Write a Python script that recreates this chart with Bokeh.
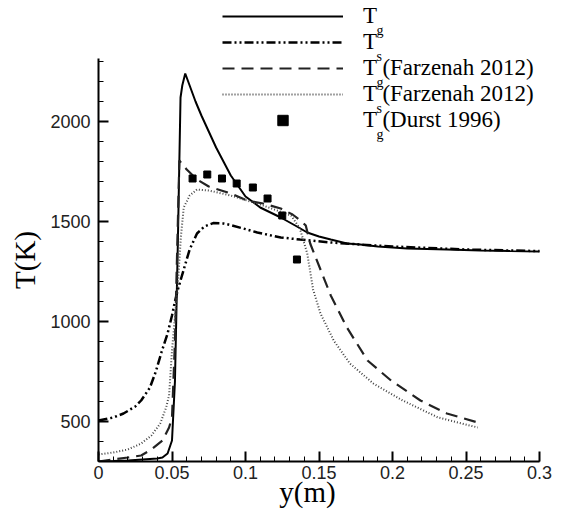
from bokeh.plotting import figure
from bokeh.models import Legend, LegendItem, Label, FixedTicker, Range1d
from bokeh.embed import file_html
from bokeh.resources import INLINE

# ---------------- data ----------------
tg_x = [0, 0.01, 0.02, 0.03, 0.04, 0.0435, 0.047, 0.05, 0.052, 0.054, 0.0558, 0.057, 0.059,
        0.062, 0.066, 0.07, 0.075, 0.08, 0.09, 0.1, 0.11, 0.124, 0.135, 0.142, 0.15, 0.158,
        0.169, 0.178, 0.19, 0.21, 0.237, 0.26, 0.28, 0.3]
tg_y = [300, 302, 305, 310, 315, 320, 340, 405, 700, 1400, 2120, 2180, 2240,
        2180, 2100, 2030, 1950, 1870, 1730, 1625, 1570, 1520, 1475, 1445, 1425, 1410,
        1390, 1385, 1375, 1365, 1360, 1355, 1352, 1350]

ts_x = [0, 0.01, 0.017, 0.025, 0.029, 0.035, 0.039, 0.043, 0.047, 0.05, 0.052, 0.054, 0.058,
        0.062, 0.067, 0.072, 0.078, 0.085, 0.09, 0.1, 0.108, 0.124, 0.137, 0.158, 0.178,
        0.2, 0.25, 0.3]
ts_y = [505, 520, 540, 575, 605, 670, 750, 850, 940, 1030, 1100, 1160, 1260,
        1360, 1440, 1475, 1492, 1490, 1482, 1462, 1445, 1420, 1410, 1395, 1385,
        1375, 1360, 1352]

tgf_x = [0, 0.01, 0.02, 0.029, 0.036, 0.0435, 0.048, 0.05, 0.052, 0.054, 0.055, 0.06, 0.067,
         0.075, 0.09, 0.101, 0.112, 0.124, 0.132, 0.139, 0.141, 0.144, 0.151, 0.158, 0.169,
         0.183, 0.199, 0.219, 0.237, 0.258]
tgf_y = [300, 310, 320, 330, 360, 405, 470, 520, 900, 1500, 1805, 1760, 1710,
         1675, 1640, 1605, 1590, 1565, 1535, 1495, 1480, 1390, 1260, 1130, 970,
         805, 705, 605, 540, 495]

tsf_x = [0, 0.01, 0.02, 0.029, 0.036, 0.042, 0.046, 0.048, 0.05, 0.052, 0.054, 0.056, 0.058,
         0.062, 0.067, 0.075, 0.09, 0.112, 0.131, 0.137, 0.142, 0.146, 0.151, 0.16, 0.171,
         0.187, 0.207, 0.231, 0.258]
tsf_y = [335, 345, 360, 390, 430, 490, 570, 630, 855, 1020, 1190, 1420, 1570,
         1630, 1660, 1655, 1630, 1580, 1530, 1465, 1340, 1160, 1040, 905, 790,
         690, 605, 520, 470]

durst_x = [0.064, 0.074, 0.084, 0.094, 0.105, 0.115, 0.125, 0.135]
durst_y = [1715, 1735, 1715, 1690, 1670, 1615, 1530, 1310]

legend_labels = ["T", "T", "T (Farzenah 2012)", "T (Farzenah 2012)", "T (Durst 1996)"]
legend_subs = ["g", "s", "g", "s", "g"]

x_ticks = [0, 0.05, 0.1, 0.15, 0.2, 0.25, 0.3]
x_tick_labels = ["0", "0.05", "0.1", "0.15", "0.2", "0.25", "0.3"]
x_minor = [i / 100 for i in range(31)]
y_ticks = [500, 1000, 1500, 2000]
y_minor = [300 + 100 * i for i in range(21)]

# ---------------- figure ----------------
W, H = 574, 513
FL, FR, FB = 98, 539, 461          # frame left / axis right end / frame bottom (px)
x_end = 0.3 * (W - FL) / (FR - FL)
y_end = 300 + (2315 - 300) * FB / (FB - 58)
PAD = "\u00a0" * 8                 # shifts the centred axis titles onto the bounded axes

p = figure(width=W, height=H, output_backend="svg", toolbar_location=None,
           x_range=Range1d(0, x_end), y_range=Range1d(300, y_end),
           min_border_left=FL, min_border_right=0, min_border_top=0,
           min_border_bottom=H - FB)
p.outline_line_color = None
p.grid.visible = False
p.background_fill_color = "white"

r_tg = p.line(tg_x, tg_y, line_color="black", line_width=2)
r_ts = p.line(ts_x, ts_y, line_color="black", line_width=2.5, line_dash="9 3 2 3 2 3")
r_tgf = p.line(tgf_x, tgf_y, line_color="#222222", line_width=2.2, line_dash="12 7")
r_tsf = p.line(tsf_x, tsf_y, line_color="#444444", line_width=2, line_dash="1 2")
r_d = p.scatter(durst_x, durst_y, marker="square", size=7, color="black")

for ax in (p.xaxis[0], p.yaxis[0]):
    ax.axis_line_width = 2
    ax.axis_line_color = "black"
    ax.major_tick_in = 10
    ax.major_tick_out = 0
    ax.minor_tick_in = 5
    ax.minor_tick_out = 0
    ax.major_tick_line_width = 2
    ax.minor_tick_line_width = 1
    ax.major_label_text_font = "Liberation Sans"
    ax.major_label_text_font_size = "18px"
    ax.major_label_text_color = "#222222"
    ax.axis_label_text_font = "Liberation Serif"
    ax.axis_label_text_font_style = "normal"
    ax.axis_label_text_font_size = "29px"
    ax.axis_label_text_color = "black"

p.xaxis.ticker = FixedTicker(ticks=x_ticks, minor_ticks=x_minor)
p.xaxis.major_label_overrides = dict(zip(x_ticks, x_tick_labels))
p.xaxis.major_label_standoff = 4
p.xaxis.axis_label = "y(m)" + PAD
p.xaxis.axis_label_standoff = -6
p.xaxis.bounds = (0, 0.3)

p.yaxis.ticker = FixedTicker(ticks=y_ticks, minor_ticks=y_minor)
p.yaxis.major_label_standoff = 8
p.yaxis.axis_label = "T(K)" + PAD
p.yaxis.axis_label_standoff = 6
p.yaxis.bounds = (300, 2315)

renderers = [r_tg, r_ts, r_tgf, r_tsf, r_d]
items = [LegendItem(label=lab, renderers=[r]) for lab, r in zip(legend_labels, renderers)]
legend = Legend(items=items, location=(124, 328), padding=0, margin=0, spacing=0,
                glyph_width=121, glyph_height=26, label_height=26, label_standoff=20,
                border_line_color=None, background_fill_alpha=0,
                label_text_font="Liberation Serif", label_text_font_size="23px",
                label_text_color="black")
p.add_layout(legend)

for i, s in enumerate(legend_subs):
    p.add_layout(Label(x=278, y=431 - 26 * i, x_units="screen", y_units="screen", text=s,
                       text_font="Liberation Serif", text_font_size="14px",
                       text_baseline="alphabetic", text_align="left", text_color="black"))

open("out.html", "w").write(file_html(p, INLINE))
